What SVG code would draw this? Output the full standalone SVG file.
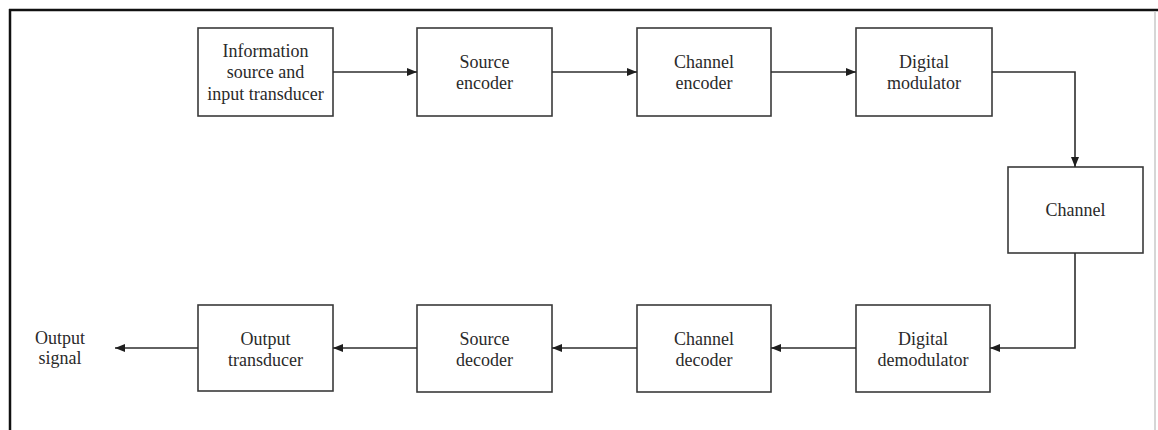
<svg xmlns="http://www.w3.org/2000/svg" width="1158" height="430" viewBox="0 0 1158 430">
  <style>
    .box { fill: #ffffff; stroke: #3a3a3a; stroke-width: 1.6; }
    .lbl { font-family: "Liberation Serif", "Times New Roman", serif; font-size: 18px; fill: #2a2a2a; text-anchor: middle; }
    .wire { fill: none; stroke: #2e2e2e; stroke-width: 1.6; }
  </style>
  <defs>
    <marker id="arrow" viewBox="0 0 10 8" refX="10" refY="4" markerWidth="10" markerHeight="8" markerUnits="userSpaceOnUse" orient="auto">
      <path d="M0,0 L10,4 L0,8 Z" fill="#1e1e1e"/>
    </marker>
  </defs>

  <!-- page background and frame -->
  <rect x="0" y="0" width="1158" height="430" fill="#ffffff"/>
  <line x1="9" y1="10" x2="1158" y2="10" stroke="#111" stroke-width="2.5"/>
  <line x1="10" y1="9" x2="10" y2="430" stroke="#111" stroke-width="2.5"/>
  <line x1="1155" y1="11" x2="1155" y2="430" stroke="#c8c8c8" stroke-width="1.5"/>

  <!-- transmitter chain -->
  <g id="info-source">
    <rect class="box" x="198" y="28" width="135" height="88"/>
    <text class="lbl" x="265.5" y="57">Information</text>
    <text class="lbl" x="265.5" y="78">source and</text>
    <text class="lbl" x="265.5" y="100">input transducer</text>
  </g>
  <g id="source-encoder">
    <rect class="box" x="417" y="28" width="135" height="88"/>
    <text class="lbl" x="484.5" y="68">Source</text>
    <text class="lbl" x="484.5" y="89">encoder</text>
  </g>
  <g id="channel-encoder">
    <rect class="box" x="637" y="28" width="134" height="88"/>
    <text class="lbl" x="704" y="68">Channel</text>
    <text class="lbl" x="704" y="89">encoder</text>
  </g>
  <g id="digital-modulator">
    <rect class="box" x="856" y="28" width="136" height="88"/>
    <text class="lbl" x="924" y="68">Digital</text>
    <text class="lbl" x="924" y="89">modulator</text>
  </g>

  <!-- channel -->
  <g id="channel">
    <rect class="box" x="1008" y="167" width="135" height="86"/>
    <text class="lbl" x="1075.5" y="216">Channel</text>
  </g>

  <!-- receiver chain -->
  <g id="digital-demodulator">
    <rect class="box" x="856" y="305" width="134" height="87"/>
    <text class="lbl" x="923" y="345">Digital</text>
    <text class="lbl" x="923" y="366">demodulator</text>
  </g>
  <g id="channel-decoder">
    <rect class="box" x="637" y="305" width="134" height="87"/>
    <text class="lbl" x="704" y="345">Channel</text>
    <text class="lbl" x="704" y="366">decoder</text>
  </g>
  <g id="source-decoder">
    <rect class="box" x="417" y="305" width="135" height="87"/>
    <text class="lbl" x="484.5" y="345">Source</text>
    <text class="lbl" x="484.5" y="366">decoder</text>
  </g>
  <g id="output-transducer">
    <rect class="box" x="198" y="305" width="135" height="86"/>
    <text class="lbl" x="265.5" y="345">Output</text>
    <text class="lbl" x="265.5" y="366">transducer</text>
  </g>
  <g id="output-signal">
    <text class="lbl" x="60" y="344">Output</text>
    <text class="lbl" x="60" y="364">signal</text>
  </g>

  <!-- signal flow -->
  <g id="connectors">
    <line class="wire" x1="333" y1="72" x2="417" y2="72" marker-end="url(#arrow)"/>
    <line class="wire" x1="552" y1="72" x2="637" y2="72" marker-end="url(#arrow)"/>
    <line class="wire" x1="771" y1="72" x2="856" y2="72" marker-end="url(#arrow)"/>
    <polyline class="wire" points="992,72 1075,72 1075,167" marker-end="url(#arrow)"/>
    <polyline class="wire" points="1075,253 1075,348 990,348" marker-end="url(#arrow)"/>
    <line class="wire" x1="856" y1="348" x2="771" y2="348" marker-end="url(#arrow)"/>
    <line class="wire" x1="637" y1="348" x2="552" y2="348" marker-end="url(#arrow)"/>
    <line class="wire" x1="417" y1="348" x2="333" y2="348" marker-end="url(#arrow)"/>
    <line class="wire" x1="198" y1="348" x2="115" y2="348" marker-end="url(#arrow)"/>
  </g>
</svg>
